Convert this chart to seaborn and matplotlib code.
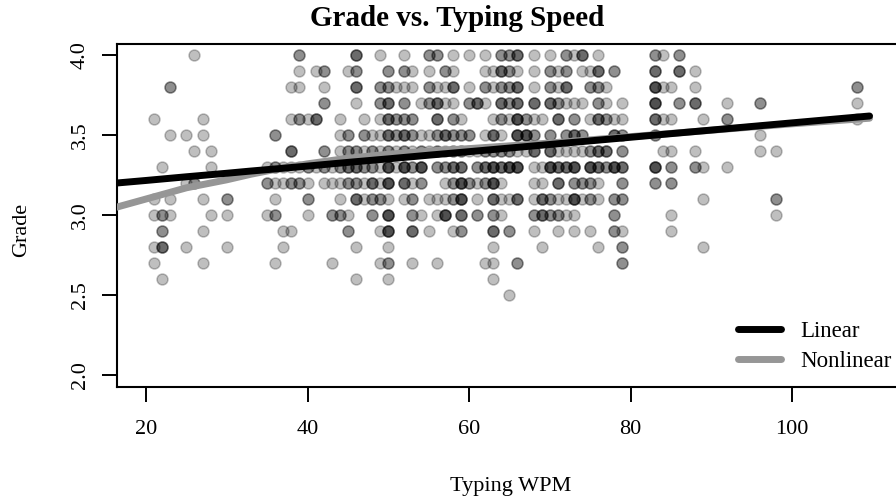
import numpy as np
import pandas as pd
import matplotlib
matplotlib.use("Agg")
from matplotlib import pyplot as plt
import seaborn as sns

# WPM of each student, grouped by grade (a repeated value = overlapping dots)
wpm_40 = [26, 39, 39, 46, 46, 46, 49, 52, 55, 55, 56, 56, 58, 60, 62, 64, 64, 65, 65,
          66, 66, 66, 68, 70, 72, 72, 73, 74, 74, 74, 76, 83, 83, 84, 86, 86]
wpm_39 = [39, 41, 42, 42, 45, 46, 46, 50, 50, 52, 52, 53, 55, 57, 57, 58, 62, 63, 64, 64,
          64, 65, 65, 66, 68, 70, 70, 71, 72, 72, 74, 75, 76, 76, 76, 78, 78, 83, 83, 83,
          86, 86, 86, 88]
wpm_38 = [23, 23, 38, 39, 42, 46, 46, 46, 49, 49, 50, 50, 51, 52, 53, 55, 55, 56, 57, 58,
          58, 58, 60, 62, 62, 63, 64, 64, 65, 65, 66, 66, 66, 68, 70, 70, 71, 72, 72, 72,
          75, 75, 76, 76, 77, 83, 83, 83, 83, 84, 85, 88, 108, 108]
wpm_37 = [42, 42, 46, 49, 49, 50, 50, 50, 52, 52, 54, 55, 55, 56, 56, 56, 57, 58, 60, 60,
          61, 61, 61, 62, 64, 64, 64, 65, 65, 66, 66, 66, 68, 68, 68, 70, 70, 70, 71, 71,
          72, 73, 74, 76, 76, 77, 79, 83, 83, 83, 83, 86, 86, 88, 88, 88, 92, 96, 96, 108]
wpm_36 = [21, 27, 38, 39, 39, 40, 41, 41, 41, 44, 47, 49, 50, 50, 50, 51, 51, 52, 52, 53,
          53, 56, 56, 56, 58, 58, 59, 63, 64, 64, 65, 66, 66, 66, 66, 67, 67, 68, 69, 71,
          71, 71, 73, 73, 75, 76, 76, 76, 77, 77, 78, 79, 83, 83, 83, 84, 85, 89, 92, 92, 108]
wpm_35 = [23, 25, 27, 36, 36, 44, 45, 45, 47, 47, 48, 49, 50, 50, 50, 51, 51, 52, 52, 52,
          53, 53, 54, 55, 56, 56, 57, 57, 57, 58, 58, 59, 59, 60, 60, 62, 63, 63, 63, 64,
          66, 66, 66, 66, 67, 67, 67, 67, 68, 68, 70, 70, 72, 72, 73, 73, 73, 74, 74, 78,
          78, 78, 79, 79, 83, 83, 96]
wpm_34 = [26, 28, 38, 38, 38, 42, 42, 44, 45, 45, 46, 46, 47, 48, 48, 49, 50, 50, 51, 52,
          52, 53, 54, 54, 55, 56, 56, 57, 58, 58, 59, 59, 60, 61, 62, 62, 63, 63, 64, 64,
          65, 65, 66, 67, 68, 68, 68, 70, 70, 70, 71, 72, 73, 74, 75, 75, 76, 76, 76, 77,
          77, 77, 79, 79, 84, 85, 88, 96, 98]
wpm_33 = [22, 28, 35, 36, 36, 37, 38, 39, 40, 40, 41, 42, 42, 43, 44, 44, 45, 45, 45, 46,
          46, 46, 47, 47, 48, 48, 49, 50, 50, 50, 50, 51, 52, 52, 52, 52, 53, 53, 54, 54,
          54, 54, 56, 56, 57, 57, 58, 58, 58, 59, 59, 59, 61, 61, 62, 62, 62, 63, 63, 63,
          63, 64, 64, 64, 65, 65, 65, 65, 66, 66, 66, 66, 68, 69, 70, 70, 70, 70, 71, 71,
          71, 72, 72, 72, 73, 73, 73, 73, 75, 75, 75, 75, 76, 76, 76, 77, 77, 78, 78, 78,
          78, 79, 79, 79, 83, 83, 83, 83, 85, 85, 88, 88, 89, 92]
wpm_32 = [25, 26, 26, 35, 35, 36, 37, 38, 38, 39, 39, 40, 42, 43, 44, 45, 45, 46, 46, 47,
          48, 48, 48, 49, 50, 50, 50, 50, 52, 52, 52, 53, 54, 54, 57, 58, 58, 59, 59, 59,
          59, 60, 60, 61, 62, 62, 63, 63, 63, 63, 64, 68, 69, 71, 71, 71, 73, 73, 74, 74,
          75, 75, 76, 79, 79, 83, 83, 85, 85]
wpm_31 = [21, 23, 27, 30, 30, 36, 40, 40, 44, 46, 46, 46, 47, 48, 48, 49, 49, 50, 52, 53,
          53, 55, 56, 57, 58, 58, 59, 59, 59, 59, 61, 63, 63, 63, 64, 65, 66, 66, 66, 68,
          69, 69, 69, 70, 70, 71, 72, 73, 73, 73, 73, 74, 75, 75, 76, 78, 78, 79, 79, 89,
          98, 98]
wpm_30 = [21, 22, 22, 23, 28, 30, 35, 36, 36, 40, 43, 43, 44, 44, 45, 48, 48, 50, 50, 50,
          50, 53, 53, 54, 56, 57, 57, 57, 57, 59, 59, 59, 61, 61, 63, 63, 64, 68, 68, 69,
          69, 69, 70, 70, 71, 71, 72, 73, 78, 78, 85, 98]
wpm_29 = [22, 22, 27, 37, 38, 45, 45, 49, 50, 50, 50, 50, 53, 53, 53, 55, 58, 59, 59, 63,
          63, 63, 65, 65, 68, 71, 73, 75, 78, 78, 79, 85]
wpm_28 = [21, 22, 22, 22, 25, 30, 37, 46, 50, 63, 69, 76, 79, 79, 89]
wpm_27 = [21, 27, 36, 43, 49, 50, 50, 53, 56, 62, 63, 66, 66, 79, 79]
wpm_26 = [22, 46, 50, 63]
wpm_25 = [65]

grade_levels = [4.0, 3.9, 3.8, 3.7, 3.6, 3.5, 3.4, 3.3, 3.2, 3.1, 3.0, 2.9, 2.8, 2.7, 2.6, 2.5]
wpm_by_grade = [wpm_40, wpm_39, wpm_38, wpm_37, wpm_36, wpm_35, wpm_34, wpm_33,
                wpm_32, wpm_31, wpm_30, wpm_29, wpm_28, wpm_27, wpm_26, wpm_25]

# fitted curves
fit_wpm = [15, 20, 25, 30, 33, 36, 40, 45, 50, 55, 60, 70, 80, 90, 100, 109.6]
linear_grade = [3.194, 3.216, 3.239, 3.261, 3.275, 3.288, 3.306, 3.329, 3.351, 3.374,
                3.396, 3.441, 3.486, 3.531, 3.576, 3.619]
nonlinear_grade = [3.03, 3.10, 3.17, 3.22, 3.255, 3.285, 3.32, 3.355, 3.38, 3.40,
                   3.415, 3.45, 3.49, 3.53, 3.57, 3.605]

x_ticks = [20, 40, 60, 80, 100]
y_ticks = [2.0, 2.5, 3.0, 3.5, 4.0]

df = pd.concat([pd.DataFrame({"wpm": w, "grade": g}) for g, w in zip(grade_levels, wpm_by_grade)],
               ignore_index=True)
fits = pd.DataFrame({"wpm": fit_wpm, "linear": linear_grade, "nonlinear": nonlinear_grade})

sns.set_style("ticks")
plt.rcParams["font.family"] = ["Liberation Serif", "DejaVu Serif"]
plt.rcParams["text.color"] = "black"
plt.rcParams["axes.labelcolor"] = "black"
plt.rcParams["xtick.color"] = "black"
plt.rcParams["ytick.color"] = "black"

fig = plt.figure(figsize=(8.96, 5.01), dpi=100)
ax = fig.add_axes([117 / 896, 114 / 501, 783 / 896, 343 / 501])

sns.scatterplot(data=df, x="wpm", y="grade", ax=ax, color="black", alpha=0.25,
                s=62, edgecolor="black", linewidth=1.1, zorder=2, legend=False)

sns.lineplot(data=fits, x="wpm", y="linear", ax=ax, color="black", linewidth=5,
             label="Linear", zorder=4, solid_capstyle="round")
sns.lineplot(data=fits, x="wpm", y="nonlinear", ax=ax, color="#969696", linewidth=5,
             label="Nonlinear", zorder=3, solid_capstyle="round")

ax.set_xlim(16.41, 113.37)
ax.set_ylim(1.925, 4.069)
ax.set_xticks(x_ticks)
ax.set_yticks(y_ticks)
ax.set_xticklabels([str(t) for t in x_ticks])
ax.set_yticklabels([f"{t:.1f}" for t in y_ticks], rotation=90, va="center")
ax.tick_params(axis="both", direction="out", length=10.5, width=1.4, labelsize=16, colors="black")
ax.tick_params(axis="x", pad=13)
ax.tick_params(axis="y", pad=9)
for sp in ax.spines.values():
    sp.set_visible(True)
    sp.set_linewidth(1.5)
    sp.set_color("black")
ax.set_xlabel("")
ax.set_ylabel("")

leg = ax.legend(loc="lower right", bbox_to_anchor=(1.0153, -0.017), frameon=False,
                fontsize=16.5, handlelength=1.85, handletextpad=0.85, labelspacing=0.38)

fig.text(457 / 896, 1 - 18 / 501, "Grade vs. Typing Speed", ha="center", va="center",
         fontsize=21, fontweight="bold")
fig.text(511 / 896, 1 - 487 / 501, "Typing WPM", ha="center", va="center", fontsize=16)
fig.text(22 / 896, 1 - 230 / 501, "Grade", ha="center", va="center", fontsize=16, rotation=90)

fig.savefig("out.png", dpi=100)
